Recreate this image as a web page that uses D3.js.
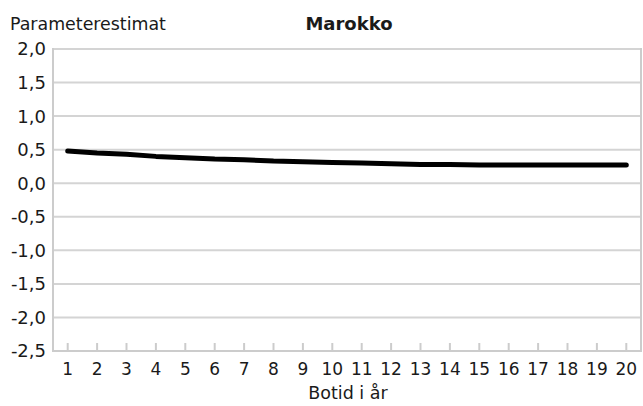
<!DOCTYPE html>
<html><head><meta charset="utf-8">
<script src="https://cdn.jsdelivr.net/npm/d3@7"></script>
<style>body{margin:0;background:#fff}svg{display:block}text{font-family:"DejaVu Sans",sans-serif;fill:#1a1a1a}</style>
</head><body><svg id="c" width="643" height="406"></svg>
<script>
const categories = [1,2,3,4,5,6,7,8,9,10,11,12,13,14,15,16,17,18,19,20];
const values = [0.48,0.45,0.43,0.40,0.38,0.36,0.35,0.33,0.32,0.31,0.30,0.29,0.28,0.28,0.27,0.27,0.27,0.27,0.27,0.27];
const yTicks = [2.0,1.5,1.0,0.5,0.0,-0.5,-1.0,-1.5,-2.0,-2.5];
const title = "Marokko";
const yTitle = "Parameterestimat";
const xTitle = "Botid i år";

const svg = d3.select("#c");
const L = 53, R = 641, T = 49, B = 351;
const x = d3.scaleBand().domain(categories).range([L, R]);
const y = d3.scaleLinear().domain([-2.5, 2.0]).range([B, T]);
const fmt = v => d3.format(".1f")(v).replace(".", ",").replace("−","-");

// gridlines
svg.append("g").selectAll("line").data(yTicks).join("line")
  .attr("x1", L).attr("x2", R).attr("y1", d => y(d)).attr("y2", d => y(d))
  .attr("stroke", "#d4d4d4").attr("stroke-width", 2);
// frame
svg.append("line").attr("x1", L).attr("x2", L).attr("y1", T-1).attr("y2", B+1).attr("stroke", "#cccccc").attr("stroke-width", 2);
svg.append("line").attr("x1", R).attr("x2", R).attr("y1", T-1).attr("y2", B+1).attr("stroke", "#cccccc").attr("stroke-width", 2);
svg.append("line").attr("x1", L).attr("x2", R).attr("y1", B).attr("y2", B).attr("stroke", "#cccccc").attr("stroke-width", 2);

// y labels
svg.append("g").selectAll("text").data(yTicks).join("text")
  .attr("x", 46).attr("y", d => y(d)).attr("dy", "0.36em").attr("text-anchor", "end")
  .attr("font-size", 18).text(fmt);

// x ticks
svg.append("g").selectAll("line").data(categories).join("line")
  .attr("x1", d => x(d) + x.bandwidth()/2).attr("x2", d => x(d) + x.bandwidth()/2)
  .attr("y1", B - 8).attr("y2", B).attr("stroke", "#cccccc").attr("stroke-width", 2);
svg.append("g").selectAll("text").data(categories).join("text")
  .attr("x", d => x(d) + x.bandwidth()/2).attr("y", 375).attr("text-anchor", "middle")
  .attr("font-size", 17).text(d => d);

// line
const line = d3.line().x((d, i) => x(categories[i]) + x.bandwidth()/2).y(d => y(d));
svg.append("path").datum(values).attr("d", line).attr("fill", "none")
  .attr("stroke", "#000").attr("stroke-width", 5).attr("stroke-linecap", "round").attr("stroke-linejoin", "round");

// titles
svg.append("text").attr("x", 10).attr("y", 30).attr("font-size", 17.4).text(yTitle);
svg.append("text").attr("x", 349).attr("y", 30).attr("text-anchor", "middle").attr("font-size", 18).attr("font-weight", "bold").text(title);
svg.append("text").attr("x", 348).attr("y", 399).attr("text-anchor", "middle").attr("font-size", 17.5).text(xTitle);
</script></body></html>
